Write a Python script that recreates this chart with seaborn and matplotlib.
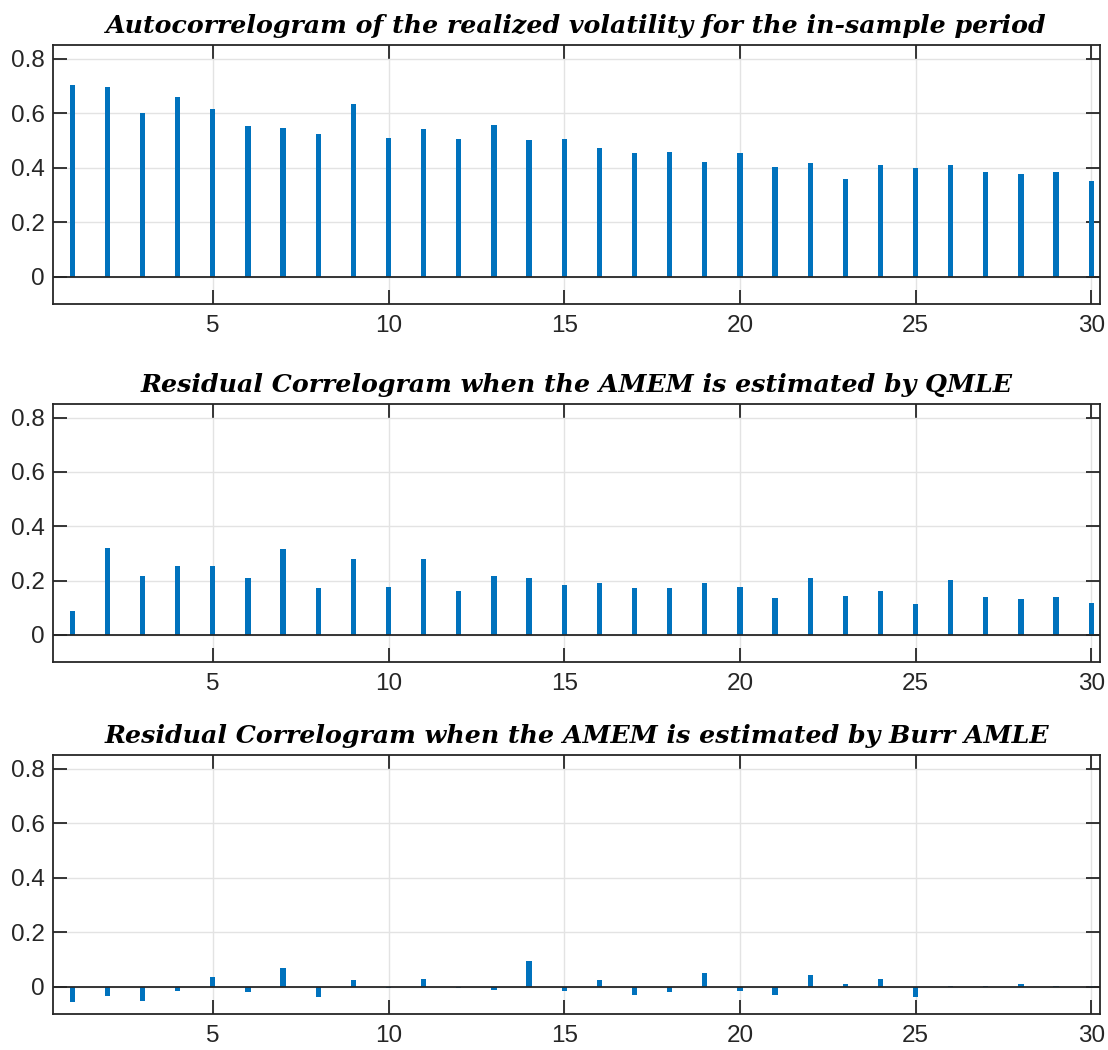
import matplotlib
matplotlib.use("Agg")
import matplotlib.pyplot as plt
import seaborn as sns
import numpy as np
import pandas as pd

lags = list(range(1, 31))

acf_rv = [0.705, 0.696, 0.601, 0.661, 0.617, 0.553, 0.547, 0.525, 0.635, 0.510,
          0.543, 0.505, 0.557, 0.503, 0.504, 0.472, 0.454, 0.457, 0.420, 0.455,
          0.404, 0.418, 0.360, 0.409, 0.399, 0.411, 0.385, 0.377, 0.385, 0.352]

acf_qmle = [0.086, 0.321, 0.216, 0.254, 0.254, 0.211, 0.316, 0.172, 0.278, 0.178,
            0.280, 0.160, 0.216, 0.210, 0.182, 0.192, 0.173, 0.171, 0.192, 0.177,
            0.134, 0.209, 0.144, 0.162, 0.112, 0.202, 0.138, 0.133, 0.138, 0.119]

acf_burr = [-0.056, -0.033, -0.052, -0.017, 0.034, -0.020, 0.069, -0.039, 0.023, -0.006,
            0.027, -0.005, -0.012, 0.093, -0.015, 0.026, -0.032, -0.021, 0.049, -0.016,
            -0.029, 0.044, 0.010, 0.028, -0.038, 0.002, 0.001, 0.009, 0.001, 0.004]

titles = [
    "Autocorrelogram of the realized volatility for the in-sample period",
    "Residual Correlogram when the AMEM is estimated by QMLE",
    "Residual Correlogram when the AMEM is estimated by Burr AMLE",
]
series = [acf_rv, acf_qmle, acf_burr]

xticks = [5, 10, 15, 20, 25, 30]
yticks = [0, 0.2, 0.4, 0.6, 0.8]
ytick_labels = ["0", "0.2", "0.4", "0.6", "0.8"]

sns.set_theme(style="white")
plt.rcParams['font.family'] = ['Liberation Sans', 'DejaVu Sans']

stem_color = "#0072BD"
axis_color = "#262626"

fig = plt.figure(figsize=(11.08, 10.5), dpi=100)
W, H = 1108, 1050
boxes = [(45, 304), (404, 662), (755, 1014)]
left_px, right_px = 53, 1100

for (top, bot), vals, title in zip(boxes, series, titles):
    ax = fig.add_axes([left_px / W, 1 - bot / H, (right_px - left_px) / W, (bot - top) / H])
    df = pd.DataFrame({"lag": lags, "acf": vals})
    sns.barplot(data=df, x="lag", y="acf", native_scale=True, width=0.15,
                color=stem_color, saturation=1, ax=ax, zorder=3, linewidth=0)
    ax.axhline(0, color=axis_color, lw=1.3, zorder=4)
    ax.set_xlim(0.45, 30.25)
    ax.set_ylim(-0.1, 0.85)
    ax.set_xticks(xticks)
    ax.set_xticklabels([str(t) for t in xticks])
    ax.set_yticks(yticks)
    ax.set_yticklabels(ytick_labels)
    ax.set_xlabel("")
    ax.set_ylabel("")
    ax.grid(True, color="#e3e3e3", lw=1.0, zorder=0)
    ax.set_axisbelow(True)
    for s in ax.spines.values():
        s.set_visible(True)
        s.set_color(axis_color)
        s.set_linewidth(1.3)
    ax.tick_params(axis="both", which="major", direction="in", length=10, width=1.3,
                   color=axis_color, labelcolor=axis_color, labelsize=17.5,
                   top=True, right=True, left=True, bottom=True)
    ax.tick_params(axis="x", pad=8)
    ax.tick_params(axis="y", pad=6)
    ax.set_title(title, fontsize=18.2, fontweight="bold", fontstyle="italic",
                 family="DejaVu Serif", color="black", pad=9)

fig.savefig("out.png", dpi=100)
